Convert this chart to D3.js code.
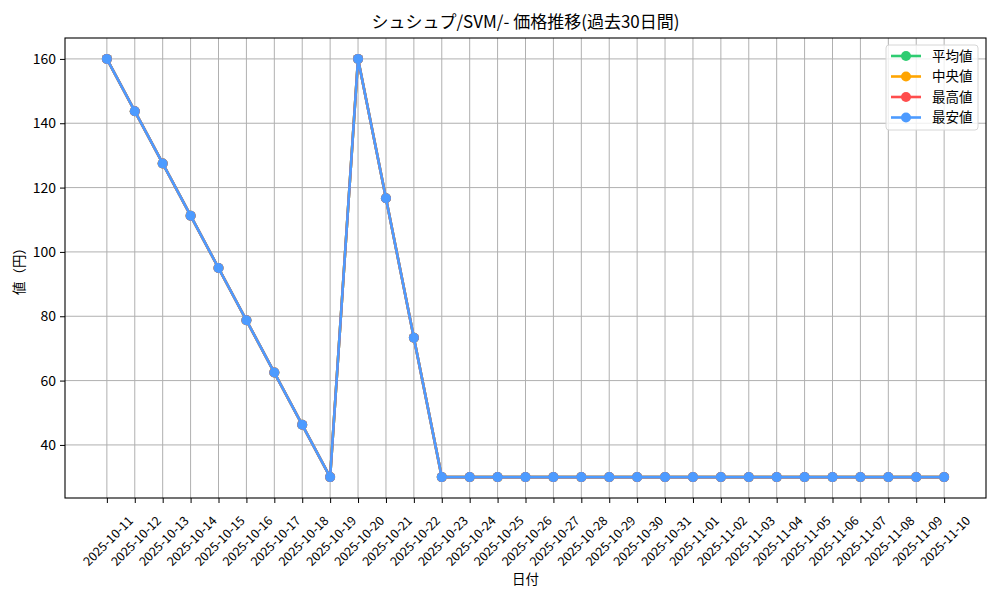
<!DOCTYPE html>
<html>
<head>
<meta charset="utf-8">
<script src="https://cdn.jsdelivr.net/npm/d3@7"></script>
<style>
  body { margin: 0; background: #fff; }
  text { font-family: "Noto Sans CJK JP", "DejaVu Sans", sans-serif; fill: #000; }
</style>
</head>
<body>
<div id="chart"></div>
<script>
// Plot constants
const WIDTH = 1000;
const HEIGHT = 600;
const margin = { top: 38, right: 14, bottom: 102, left: 65 };

const dates = [
  "2025-10-11", "2025-10-12", "2025-10-13", "2025-10-14", "2025-10-15",
  "2025-10-16", "2025-10-17", "2025-10-18", "2025-10-19", "2025-10-20",
  "2025-10-21", "2025-10-22", "2025-10-23", "2025-10-24", "2025-10-25",
  "2025-10-26", "2025-10-27", "2025-10-28", "2025-10-29", "2025-10-30",
  "2025-10-31", "2025-11-01", "2025-11-02", "2025-11-03", "2025-11-04",
  "2025-11-05", "2025-11-06", "2025-11-07", "2025-11-08", "2025-11-09",
  "2025-11-10",
];

// all four series coincide in the picture
const avgValues = [160, 143.75, 127.5, 111.25, 95, 78.75, 62.5, 46.25, 30, 160, 116.67, 73.33,
  30, 30, 30, 30, 30, 30, 30, 30, 30, 30, 30, 30, 30, 30, 30, 30, 30, 30, 30];
const medianValues = [160, 143.75, 127.5, 111.25, 95, 78.75, 62.5, 46.25, 30, 160, 116.67, 73.33,
  30, 30, 30, 30, 30, 30, 30, 30, 30, 30, 30, 30, 30, 30, 30, 30, 30, 30, 30];
const maxValues = [160, 143.75, 127.5, 111.25, 95, 78.75, 62.5, 46.25, 30, 160, 116.67, 73.33,
  30, 30, 30, 30, 30, 30, 30, 30, 30, 30, 30, 30, 30, 30, 30, 30, 30, 30, 30];
const minValues = [160, 143.75, 127.5, 111.25, 95, 78.75, 62.5, 46.25, 30, 160, 116.67, 73.33,
  30, 30, 30, 30, 30, 30, 30, 30, 30, 30, 30, 30, 30, 30, 30, 30, 30, 30, 30];

const seriesNames = ["平均値", "中央値", "最高値", "最安値"];
const seriesColors = ["#2ecc71", "#ffa502", "#ff4d4d", "#4d9bff"];
const yTicks = [40, 60, 80, 100, 120, 140, 160];

const series = [avgValues, medianValues, maxValues, minValues].map((vals, i) => ({
  name: seriesNames[i],
  color: seriesColors[i],
  values: vals,
}));

const svg = d3.select("#chart").append("svg")
  .attr("width", WIDTH)
  .attr("height", HEIGHT);

const iw = WIDTH - margin.left - margin.right;
const ih = HEIGHT - margin.top - margin.bottom;

const g = svg.append("g").attr("transform", `translate(${margin.left},${margin.top})`);

// matplotlib-like 5% margins
const x = d3.scaleLinear().domain([-1.5, dates.length - 1 + 1.5]).range([0, iw]);
const yMin = 30, yMax = 160, pad = (yMax - yMin) * 0.05;
const y = d3.scaleLinear().domain([yMin - pad, yMax + pad]).range([ih, 0]);

// Grid
g.append("g").selectAll("line").data(dates).join("line")
  .attr("x1", (d, i) => x(i)).attr("x2", (d, i) => x(i))
  .attr("y1", 0).attr("y2", ih)
  .attr("stroke", "#b0b0b0").attr("stroke-width", 1);
g.append("g").selectAll("line").data(yTicks).join("line")
  .attr("x1", 0).attr("x2", iw)
  .attr("y1", d => y(d)).attr("y2", d => y(d))
  .attr("stroke", "#b0b0b0").attr("stroke-width", 1);

// Lines and markers
const line = d3.line().x((d, i) => x(i)).y(d => y(d));
series.forEach(s => {
  g.append("path")
    .datum(s.values)
    .attr("d", line)
    .attr("fill", "none")
    .attr("stroke", s.color)
    .attr("stroke-width", 2.6);
  g.append("g").selectAll("circle").data(s.values).join("circle")
    .attr("cx", (d, i) => x(i))
    .attr("cy", d => y(d))
    .attr("r", 5)
    .attr("fill", s.color);
});

// Axes
const yAxis = d3.axisLeft(y).tickValues(yTicks).tickSize(5).tickPadding(4);
const yG = g.append("g").call(yAxis);
yG.select(".domain").remove();
yG.selectAll("text").attr("font-size", 14).attr("font-family", "Noto Sans CJK JP");

const xAxis = d3.axisBottom(x).tickValues(d3.range(dates.length)).tickSize(5).tickFormat(i => dates[i]);
const xG = g.append("g").attr("transform", `translate(0,${ih})`).call(xAxis);
xG.select(".domain").remove();
xG.selectAll("text")
  .attr("font-size", 12.5)
  .attr("font-family", "Noto Sans CJK JP")
  .attr("dy", null)
  .attr("y", null)
  .attr("text-anchor", "middle")
  .attr("dominant-baseline", "central")
  .each(function () {
    const t = d3.select(this);
    const len = this.getComputedTextLength();
    const ext = (len + 13) * Math.SQRT1_2;
    t.attr("transform", `translate(0,${15 + ext / 2}) rotate(-45)`);
  });

// Frame
g.append("rect")
  .attr("width", iw).attr("height", ih)
  .attr("fill", "none").attr("stroke", "#000").attr("stroke-width", 1.1);

// Labels
svg.append("text")
  .attr("x", margin.left + iw / 2).attr("y", 28)
  .attr("text-anchor", "middle")
  .attr("font-size", 17)
  .text("シュシュプ/SVM/- 価格推移(過去30日間)");

svg.append("text")
  .attr("x", margin.left + iw / 2).attr("y", 584)
  .attr("text-anchor", "middle")
  .attr("font-size", 13.5)
  .text("日付");

svg.append("text")
  .attr("transform", `translate(24,${margin.top + ih / 2}) rotate(-90)`)
  .attr("text-anchor", "middle")
  .attr("font-size", 13.5)
  .text("値（円）");

// Legend
const lg = svg.append("g").attr("transform", `translate(${margin.left + iw - 100},45)`);
lg.append("rect")
  .attr("width", 92).attr("height", 85)
  .attr("rx", 3)
  .attr("fill", "#fff").attr("fill-opacity", 0.8)
  .attr("stroke", "#d6d6d6");
const items = lg.selectAll("g.item").data(series).join("g")
  .attr("class", "item")
  .attr("transform", (d, i) => `translate(0,${11 + i * 20.5})`);
items.append("line")
  .attr("x1", 5).attr("x2", 35)
  .attr("stroke", d => d.color).attr("stroke-width", 2.6);
items.append("circle")
  .attr("cx", 20).attr("r", 5).attr("fill", d => d.color);
items.append("text")
  .attr("x", 46).attr("dy", "0.35em")
  .attr("font-size", 13.5)
  .text(d => d.name);
</script>
</body>
</html>
